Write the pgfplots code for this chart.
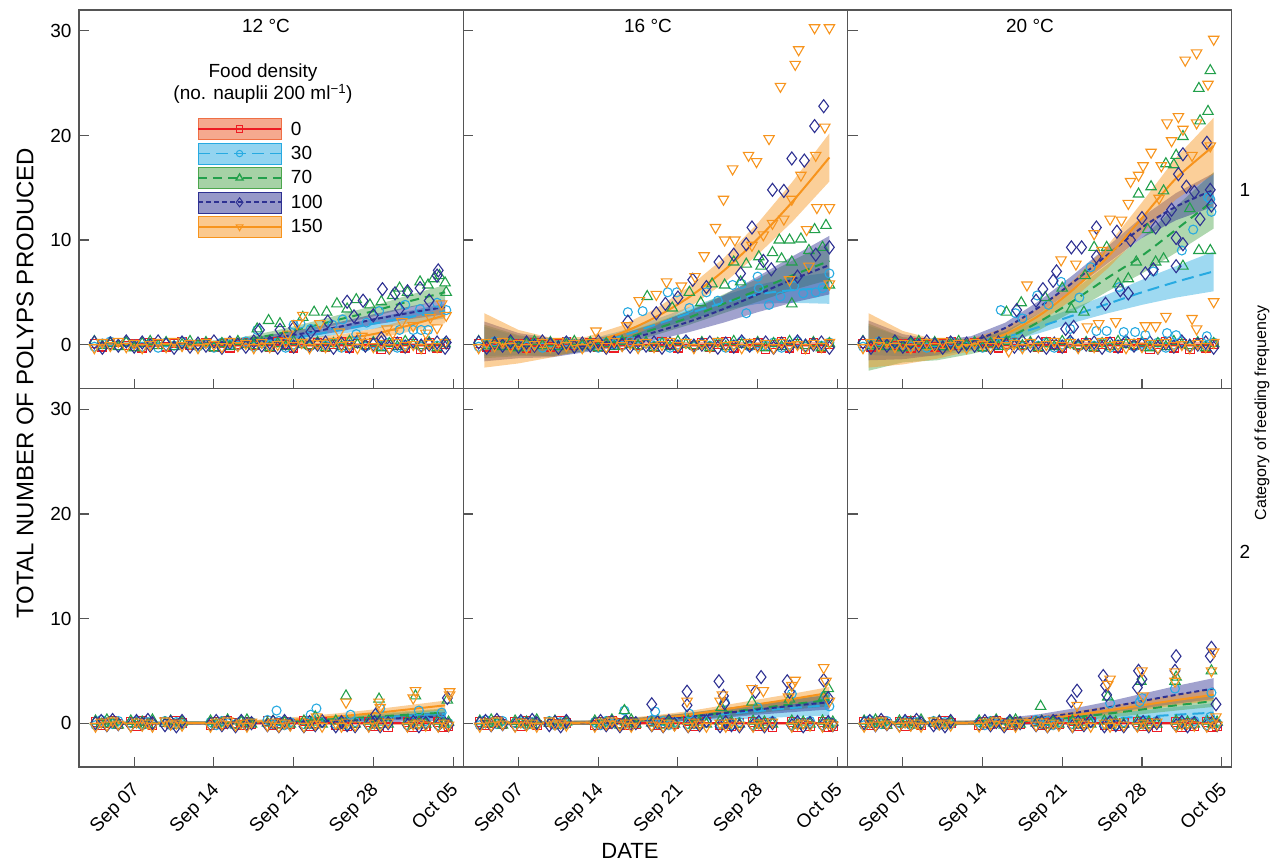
\documentclass[border=0pt]{standalone}
\usepackage{fontspec}
\setmainfont{Liberation Sans}
\usepackage{pgfplots}
\usepackage{pgfplotstable}
\pgfplotsset{compat=1.18}

\definecolor{cR}{HTML}{ED1C24}
\definecolor{cB}{HTML}{27AAE1}
\definecolor{cG}{HTML}{22A04B}
\definecolor{cP}{HTML}{2E3192}
\definecolor{cO}{HTML}{F7941D}
\definecolor{bR}{HTML}{EF6F45}
\definecolor{bG}{HTML}{4DA64D}
\definecolor{frm}{HTML}{555555}

\newcommand{\fs}[1]{\fontsize{#1}{#1}\selectfont}

\pgfplotsset{
  panel/.style={width=384.3pt, height=378.5pt, scale only axis, anchor=north west,
    xmin=2.15, xmax=35.9, ymin=-4.2, ymax=32, clip=false,
    xtick={7,14,21,28,35}, ytick={0,10,20,30},
    tick align=inside, xtick pos=bottom, ytick pos=left, major tick length=10pt,
    axis line style={frm, line width=1.1pt},
    every tick/.style={frm, line width=1.1pt},
    tick label style={font=\fs{19}},
    /pgf/number format/assume math mode=true,
    yticklabel style={xshift=-4pt}},
  noxl/.style={xticklabels={}},
  noyl/.style={yticklabels={}},
  datexl/.style={xticklabels={Sep 07,Sep 14,Sep 21,Sep 28,Oct 05},
    xticklabel style={rotate=45, anchor=north east, xshift=-9pt, yshift=-4pt}},
  sR/.style={only marks, forget plot, color=cR, mark=square, mark size=4.3pt, mark options={line width=1.1pt}},
  sB/.style={only marks, forget plot, color=cB, mark=o, mark size=4.5pt, mark options={line width=1.1pt}},
  sG/.style={only marks, forget plot, color=cG, mark=triangle, mark size=6pt, mark options={line width=1.1pt}},
  sP/.style={only marks, forget plot, color=cP, mark=diamond, mark size=6.5pt, mark options={line width=1.1pt}},
  sO/.style={only marks, forget plot, color=cO, mark=triangle, mark size=6pt, mark options={line width=1.1pt, rotate=180}},
  lR/.style={forget plot, smooth, no marks, cR, line width=2pt},
  lB/.style={forget plot, smooth, no marks, cB, line width=2pt, dash pattern=on 12pt off 6pt},
  lG/.style={forget plot, smooth, no marks, cG, line width=2pt, dash pattern=on 9pt off 6pt},
  lP/.style={forget plot, smooth, no marks, cP, line width=2pt, dash pattern=on 5pt off 3pt},
  lO/.style={forget plot, smooth, no marks, cO, line width=2pt},
  band/.style={forget plot, draw=none, no marks, fill opacity=0.45},
}

% near-zero replicates, top row (daily sampling)
\pgfplotstableread{
d r b g p o
3.5 0.1 -0.2 0.3 0.2 -0.3
4.2 -0.2 0.1 -0.1 -0.3 0.2
4.9 0.0 0.3 0.1 0.1 -0.1
5.6 0.2 -0.1 -0.2 -0.1 0.3
6.3 -0.1 0.2 0.2 0.3 -0.2
7.0 0.1 0.0 -0.3 -0.2 0.1
7.7 -0.3 -0.2 0.1 0.2 -0.3
8.4 0.2 0.1 0.3 -0.1 0.0
9.1 0.0 -0.3 -0.1 0.3 0.2
9.8 -0.2 0.2 0.2 0.0 -0.2
10.5 0.1 -0.1 -0.2 -0.3 0.3
11.2 0.3 0.3 0.0 0.2 -0.1
11.9 -0.1 0.0 0.3 -0.2 0.1
12.6 0.0 -0.2 -0.1 0.1 -0.3
13.3 0.2 0.1 0.2 -0.1 0.2
14.0 -0.2 -0.3 -0.3 0.3 0.0
14.7 0.1 0.2 0.1 -0.3 -0.2
15.4 -0.3 0.0 -0.2 0.2 0.3
16.1 0.0 -0.1 0.3 0.0 -0.1
16.8 0.2 0.3 0.0 -0.2 0.1
17.5 -0.1 -0.2 -0.1 0.3 -0.3
18.2 0.1 0.1 0.2 -0.1 0.2
18.9 -0.2 -0.1 -0.3 0.2 -0.2
19.6 0.3 0.2 0.1 -0.3 0.0
20.3 0.0 -0.3 -0.2 0.1 0.3
21.0 -0.3 0.0 0.3 -0.2 -0.1
21.7 0.1 0.3 0.0 0.3 0.2
22.4 -0.1 -0.2 -0.1 -0.1 -0.3
23.1 0.2 0.1 0.2 0.0 0.1
23.8 -0.2 -0.1 -0.3 0.2 -0.2
24.5 0.0 0.2 0.1 -0.3 0.3
25.2 0.3 -0.3 -0.2 0.1 -0.1
25.9 -0.3 0.0 0.3 -0.2 0.0
26.6 0.1 0.3 0.0 0.3 -0.3
27.3 -0.1 -0.2 -0.1 -0.1 0.2
28.0 0.2 0.1 0.2 0.0 -0.2
28.7 -0.4 -0.1 -0.3 0.2 0.1
29.4 0.0 0.2 0.1 -0.3 -0.3
30.1 0.3 -0.3 -0.2 0.1 0.2
30.8 -0.3 0.0 0.3 -0.2 -0.1
31.5 0.1 0.3 0.0 0.3 0.0
32.2 -0.4 -0.2 -0.1 -0.1 -0.3
32.9 0.2 0.1 0.2 0.0 0.1
33.6 -0.3 -0.1 -0.3 0.2 -0.2
34.3 0.0 0.2 0.1 -0.3 0.2
}\baseT

% near-zero replicates, bottom row (clustered sampling)
\pgfplotstableread{
d r b g p o
3.6 0.1 -0.2 0.2 0.0 -0.3
4.1 -0.2 0.3 -0.1 0.2 0.1
4.6 0.0 0.1 0.3 -0.2 -0.2
5.1 0.2 -0.1 0.0 0.3 0.2
5.6 -0.1 0.2 -0.2 -0.1 -0.1
6.7 0.1 0.0 0.2 -0.2 -0.3
7.2 -0.3 0.2 -0.1 0.2 0.1
7.7 0.2 -0.2 0.1 -0.1 -0.2
8.2 0.0 0.1 -0.2 0.3 0.0
8.6 -0.2 -0.1 0.3 0.0 -0.3
9.7 0.1 0.2 0.0 -0.2 0.2
10.2 -0.1 -0.2 0.2 0.1 -0.1
10.7 0.2 0.1 -0.2 -0.3 0.0
11.2 0.0 -0.1 0.1 0.2 -0.2
13.7 -0.2 0.1 0.2 -0.1 -0.3
14.2 0.1 -0.2 -0.1 0.2 0.1
14.7 -0.1 0.2 0.0 -0.2 -0.1
15.2 0.2 0.0 0.3 0.1 0.2
15.9 0.0 -0.1 -0.2 -0.3 -0.2
16.4 -0.2 0.2 0.1 0.2 0.0
16.9 0.1 -0.2 0.3 -0.1 -0.3
17.3 -0.1 0.1 -0.1 0.0 0.1
18.7 0.2 0.3 0.0 -0.2 -0.2
19.2 -0.2 -0.1 0.2 0.1 0.1
19.7 0.0 0.2 -0.2 -0.3 -0.3
20.2 0.1 -0.2 0.1 0.2 0.0
20.7 -0.1 0.1 -0.1 -0.1 -0.2
21.9 0.2 -0.1 0.2 -0.3 -0.3
22.4 -0.3 0.2 -0.2 0.1 0.1
22.9 0.0 -0.2 0.1 -0.2 -0.1
23.5 0.1 0.1 -0.1 0.2 -0.3
24.7 -0.2 -0.1 0.2 -0.3 0.0
25.2 0.1 0.2 -0.2 0.1 -0.3
25.7 -0.3 -0.2 0.1 -0.2 0.1
26.4 0.0 0.1 -0.1 -0.3 -0.2
27.6 0.1 -0.2 0.2 -0.2 -0.3
28.1 -0.3 0.1 -0.2 0.1 0.0
28.6 0.0 -0.1 0.1 -0.3 -0.2
29.3 -0.4 0.2 -0.1 0.0 0.1
31.0 0.1 -0.2 0.2 -0.2 -0.3
31.5 -0.4 0.1 -0.2 0.1 -0.1
32.0 0.0 -0.1 0.1 -0.3 0.0
32.6 -0.3 0.2 -0.1 0.0 -0.2
33.7 0.1 -0.2 0.2 -0.2 -0.3
34.2 -0.4 0.1 -0.1 0.1 0.0
34.6 -0.3 0.0 0.1 -0.2 -0.2
}\baseB

% fitted means per food density (r=0, b=30, g=70, p=100, o=150)
\pgfplotstableread{
d r b g p o
4 0 0 0 0 0
7 0 0 0 0 0
10 0 0 0.02 0.02 0
13 0 0.05 0.1 0.08 0.03
16 0 0.15 0.35 0.25 0.08
19 0 0.4 0.9 0.6 0.15
22 0 0.8 1.6 1.1 0.3
25 0 1.4 2.4 1.7 0.55
28 0 2.0 3.2 2.4 1.0
31 0 2.6 4.1 3.0 1.8
34.3 0 3.2 5.0 3.6 2.8
}\meanTa
\pgfplotstableread{
d r b g p o
4 0 0.3 0.3 0.3 0.4
7 0 -0.1 -0.1 -0.1 -0.2
10 0 -0.3 -0.3 -0.3 -0.3
13 0 -0.05 -0.1 -0.1 0.15
16 0 0.8 0.5 0.4 1.1
19 0 1.9 1.5 1.2 2.6
22 0 3.0 2.6 2.2 4.55
25 0 4.0 3.9 3.4 7.05
28 0 4.8 5.2 4.8 10.1
31 0 5.2 6.6 6.2 13.6
34.3 0 5.4 8.0 7.6 17.9
}\meanTb
\pgfplotstableread{
d r b g p o
4 0 0.4 0.3 0.4 0.4
7 0 -0.2 -0.3 -0.2 -0.3
10 0 -0.3 -0.5 -0.3 -0.45
13 0 0 -0.2 0.3 0
16 0 0.7 0.6 1.6 1.0
19 0 1.7 2.2 3.6 2.8
22 0 2.8 4.2 6.0 5.3
25 0 3.9 6.4 8.6 8.4
28 0 5.0 8.5 11.2 12.1
31 0 6.0 11.0 13.2 15.9
34.3 0 7.0 13.8 14.8 19.0
}\meanTc
\pgfplotstableread{
d r b g p o
4 0 0 0 0 0
7 0 0 0 0 0
10 0 0 0 0 0
13 0 0.02 0.02 0.01 0.02
16 0 0.05 0.05 0.03 0.08
19 0 0.1 0.12 0.07 0.2
22 0 0.2 0.25 0.15 0.4
25 0 0.35 0.4 0.25 0.65
28 0 0.5 0.6 0.35 0.95
31 0 0.7 0.8 0.5 1.3
34.3 0 0.9 1.0 0.65 1.7
}\meanBa
\pgfplotstableread{
d r b g p o
4 0 0 0 0 0
7 0 0 0 0 0
10 0 0 0 0 0
13 0 0.03 0.04 0.04 0.05
16 0 0.12 0.15 0.15 0.2
19 0 0.3 0.35 0.35 0.45
22 0 0.55 0.65 0.6 0.8
25 0 0.85 1.0 0.95 1.3
28 0 1.15 1.4 1.3 1.8
31 0 1.45 1.8 1.65 2.3
34.3 0 1.7 2.2 2.0 2.9
}\meanBb
\pgfplotstableread{
d r b g p o
4 0 0 0 0 0
7 0 0 0 0 0
10 0 0 0 0 0
13 0 0.02 0.03 0.05 0.04
16 0 0.07 0.1 0.2 0.15
19 0 0.15 0.28 0.5 0.38
22 0 0.3 0.55 0.95 0.75
25 0 0.45 0.9 1.5 1.2
28 0 0.6 1.3 2.1 1.7
31 0 0.8 1.7 2.7 2.2
34.3 0 1.0 2.1 3.3 2.7
}\meanBc

% confidence bands as closed outlines: upper edge forward, lower edge back
\pgfplotstableread{
d b g p o
4 0.2 0.2 0.2 0.2
7 0.2 0.2 0.2 0.2
10 0.2 0.22 0.22 0.2
13 0.25 0.3 0.28 0.23
16 0.4 0.6 0.5 0.33
19 0.7 1.25 0.95 0.45
22 1.15 2.0 1.5 0.65
25 1.8 2.85 2.15 0.95
28 2.5 3.7 2.9 1.5
31 3.2 4.7 3.6 2.4
34.3 3.9 5.7 4.3 3.55
34.3 2.5 4.3 2.9 2.05
31 2.0 3.5 2.4 1.2
28 1.5 2.7 1.9 0.5
25 1.0 1.95 1.25 0.15
22 0.45 1.2 0.7 -0.05
19 0.1 0.55 0.25 -0.15
16 -0.1 0.1 0 -0.17
13 -0.15 -0.1 -0.12 -0.17
10 -0.2 -0.18 -0.18 -0.2
7 -0.2 -0.2 -0.2 -0.2
4 -0.2 -0.2 -0.2 -0.2
}\bandTa
\pgfplotstableread{
d b g p o
4 1.7 1.9 2.2 3.0
7 0.8 0.9 1.1 1.4
10 0.5 0.5 0.6 0.6
13 0.45 0.4 0.5 0.75
16 1.3 1.0 1.0 1.8
19 2.4 2.1 2.0 3.4
22 3.6 3.3 3.2 5.55
25 4.7 4.8 4.7 8.25
28 5.7 6.3 6.5 11.6
31 6.4 8.0 8.4 15.5
34.3 6.9 9.8 10.4 20.2
34.3 3.9 6.2 4.8 15.6
31 4.0 5.2 4.0 11.7
28 3.9 4.1 3.1 8.6
25 3.3 3.0 2.1 5.85
22 2.4 1.9 1.2 3.55
19 1.4 0.9 0.4 1.8
16 0.3 0 -0.2 0.4
13 -0.55 -0.6 -0.7 -0.45
10 -1.1 -1.1 -1.2 -1.2
7 -1.0 -1.1 -1.3 -1.8
4 -1.1 -1.3 -1.6 -2.2
}\bandTb
\pgfplotstableread{
d b g p o
4 1.8 2.0 2.3 3.0
7 0.7 0.7 1.0 1.3
10 0.5 0.5 0.4 0.45
13 0.5 0.5 0.8 0.6
16 1.2 1.3 2.1 1.6
19 2.3 3.0 4.2 3.5
22 3.5 5.2 6.7 6.2
25 4.8 7.7 9.4 9.5
28 6.2 10.2 12.2 13.6
31 7.5 13.2 14.5 17.9
34.3 8.9 16.5 16.4 21.7
34.3 5.1 11.1 13.2 16.3
31 4.5 8.8 11.9 13.9
28 3.8 6.8 10.2 10.6
25 3.0 5.1 7.8 7.3
22 2.1 3.2 5.3 4.4
19 1.1 1.4 3.0 2.1
16 0.2 -0.1 1.1 0.4
13 -0.5 -0.9 -0.2 -0.6
10 -1.1 -1.5 -1.0 -1.35
7 -1.1 -1.7 -1.4 -1.9
4 -1.0 -2.5 -1.5 -2.2
}\bandTc
\pgfplotstableread{
d b g p o
4 0.15 0.15 0.15 0.15
7 0.15 0.15 0.15 0.15
10 0.15 0.15 0.15 0.15
13 0.17 0.17 0.16 0.17
16 0.2 0.2 0.18 0.23
19 0.25 0.27 0.22 0.4
22 0.4 0.45 0.35 0.65
25 0.6 0.65 0.5 0.95
28 0.8 0.9 0.65 1.3
31 1.05 1.15 0.85 1.7
34.3 1.3 1.4 1.05 2.15
34.3 0.5 0.6 0.25 1.25
31 0.35 0.45 0.15 0.9
28 0.2 0.3 0.05 0.6
25 0.1 0.15 0 0.35
22 0 0.05 -0.05 0.15
19 -0.05 -0.03 -0.08 0
16 -0.1 -0.1 -0.12 -0.07
13 -0.13 -0.13 -0.14 -0.13
10 -0.15 -0.15 -0.15 -0.15
7 -0.15 -0.15 -0.15 -0.15
4 -0.15 -0.15 -0.15 -0.15
}\bandBa
\pgfplotstableread{
d b g p o
4 0.2 0.2 0.2 0.2
7 0.2 0.2 0.2 0.2
10 0.2 0.2 0.2 0.2
13 0.23 0.24 0.24 0.25
16 0.37 0.4 0.4 0.45
19 0.6 0.65 0.65 0.75
22 0.95 1.0 0.95 1.15
25 1.4 1.4 1.4 1.7
28 1.85 1.85 1.8 2.25
31 2.3 2.3 2.25 2.8
34.3 2.7 2.8 2.7 3.45
34.3 0.7 1.6 1.3 2.35
31 0.6 1.3 1.05 1.8
28 0.45 0.95 0.8 1.35
25 0.3 0.6 0.5 0.9
22 0.15 0.3 0.25 0.45
19 0 0.05 0.05 0.15
16 -0.13 -0.1 -0.1 -0.05
13 -0.17 -0.16 -0.16 -0.15
10 -0.2 -0.2 -0.2 -0.2
7 -0.2 -0.2 -0.2 -0.2
4 -0.2 -0.2 -0.2 -0.2
}\bandBb
\pgfplotstableread{
d b g p o
4 0.2 0.2 0.2 0.2
7 0.2 0.2 0.2 0.2
10 0.2 0.2 0.2 0.2
13 0.22 0.23 0.25 0.24
16 0.32 0.35 0.5 0.4
19 0.45 0.58 0.85 0.68
22 0.7 0.9 1.4 1.1
25 0.95 1.3 2.05 1.6
28 1.2 1.75 2.8 2.15
31 1.55 2.2 3.55 2.7
34.3 1.9 2.65 4.3 3.25
34.3 0.1 1.55 2.3 2.15
31 0.05 1.2 1.85 1.7
28 0 0.85 1.4 1.25
25 -0.05 0.5 0.95 0.8
22 -0.1 0.2 0.5 0.4
19 -0.15 -0.02 0.15 0.08
16 -0.18 -0.15 -0.1 -0.1
13 -0.18 -0.17 -0.15 -0.16
10 -0.2 -0.2 -0.2 -0.2
7 -0.2 -0.2 -0.2 -0.2
4 -0.2 -0.2 -0.2 -0.2
}\bandBc

% zero replicates of every density
\newcommand{\baseplots}[1]{%
  \addplot[sR] table[x=d,y=r]{#1};
  \addplot[sB] table[x=d,y=b]{#1};
  \addplot[sG] table[x=d,y=g]{#1};
  \addplot[sP] table[x=d,y=p]{#1};
  \addplot[sO] table[x=d,y=o]{#1};
}
% bands (#2), then fitted lines (#1); #3 = half width of the flat 0-density band
\newcommand{\fits}[3]{%
  \addplot[band, fill=bR, fill opacity=0.55] coordinates {(4,-#3) (34.3,-#3) (34.3,#3) (4,#3)};
  \addplot[band, fill=cB] table[x=d,y=b]{#2};
  \addplot[band, fill=bG] table[x=d,y=g]{#2};
  \addplot[band, fill=cP] table[x=d,y=p]{#2};
  \addplot[band, fill=cO] table[x=d,y=o]{#2};
  \addplot[lR] table[x=d,y=r]{#1};
  \addplot[lB] table[x=d,y=b]{#1};
  \addplot[lG] table[x=d,y=g]{#1};
  \addplot[lP] table[x=d,y=p]{#1};
  \addplot[lO] table[x=d,y=o]{#1};
}

\begin{document}
\begin{tikzpicture}
\useasboundingbox (0pt,0pt) rectangle (1279pt,-863pt);

% ---- top row: feeding frequency 1 ----
\begin{axis}[panel, noxl, at={(79pt,-10pt)}]
\baseplots{\baseT}
\addplot[sB] coordinates {(17.8,1.4) (21.0,1.9) (21.6,2.0) (22.5,1.5) (24.4,1.9) (25.3,2.4) (26.5,1.0) (27.4,2.1) (28.5,3.2) (30.3,1.4) (30.8,3.8) (31.5,1.4) (32.1,3.4) (32.2,1.4) (32.8,1.4) (33.6,4.0) (34.4,3.3)};
\addplot[sG] coordinates {(17.8,1.5) (18.8,2.3) (19.8,2.0) (21.8,2.6) (22.8,3.1) (23.9,3.1) (24.8,3.9) (25.7,3.4) (26.5,4.3) (27.7,3.8) (28.7,4.1) (29.7,4.7) (30.3,5.4) (31.0,5.0) (32.1,6.0) (32.8,5.7) (33.3,6.3) (33.8,6.6) (34.3,5.9) (34.4,5.0)};
\addplot[sP] coordinates {(18.0,1.4) (19.8,1.4) (21.0,1.6) (22.5,1.2) (24.0,2.2) (25.7,4.1) (26.3,2.7) (27.1,4.2) (28.0,2.8) (28.7,0.6) (28.8,5.3) (29.9,4.9) (30.3,3.4) (31.0,5.1) (32.1,5.4) (32.9,4.2) (33.6,6.6) (33.7,7.1) (34.4,0.2)};
\addplot[sO] coordinates {(20.5,1.0) (21.3,2.0) (21.8,2.8) (23.3,2.0) (25.0,1.2) (27.0,0.8) (29.2,1.5) (29.7,1.1) (30.5,2.2) (31.5,1.8) (32.6,1.1) (33.0,2.6) (33.6,1.6) (34.0,3.9) (34.4,2.8)};
\fits{\meanTa}{\bandTa}{0.2}
\end{axis}

\begin{axis}[panel, noxl, noyl, at={(463.3pt,-10pt)}]
\baseplots{\baseT}
\addplot[sB] coordinates {(34.3,6.8) (33.7,5.4) (33.1,5.0) (32.0,4.9) (28.0,6.5) (25.8,5.7) (20.1,5.0) (20.9,5.0) (16.6,3.1) (17.9,3.2) (27.0,3.0) (28.1,5.4) (23.5,5.0) (26.6,5.8) (22.0,3.5) (24.5,4.2) (30.0,4.6) (31.2,5.6) (29.0,3.8)};
\addplot[sG] coordinates {(34.0,11.4) (33.0,11.0) (31.8,10.1) (30.8,10.0) (29.9,10.0) (29.3,8.8) (30.1,8.2) (28.1,8.4) (28.3,7.5) (27.0,7.7) (32.5,9.0) (33.7,9.3) (31.0,7.9) (31.0,3.9) (34.3,5.7) (25.1,5.7) (24.0,5.8) (25.9,7.9) (18.3,4.6) (22.0,5.0) (20.5,3.5) (23.0,4.0) (26.5,6.0)};
\addplot[sP] coordinates {(33.8,22.8) (33.0,20.9) (31.0,17.8) (32.1,17.6) (29.3,14.8) (30.3,14.7) (27.5,11.2) (34.3,9.3) (33.1,8.6) (27.0,9.6) (25.9,8.6) (24.6,7.9) (22.3,6.2) (29.2,7.2) (19.9,3.9) (16.6,2.2) (19.1,3.0) (21.0,4.5) (23.5,5.5) (28.5,8.0) (31.5,6.5) (26.5,6.8)};
\addplot[sO] coordinates {(33.0,30.3) (34.3,30.3) (31.6,28.2) (31.3,26.8) (30.0,24.7) (33.9,20.8) (29.0,19.7) (27.2,18.1) (27.9,17.5) (25.8,16.8) (33.1,18.1) (25.0,13.9) (33.2,13.1) (34.3,13.1) (24.3,11.2) (25.1,10.0) (26.0,10.0) (23.3,8.5) (31.0,13.9) (30.3,12.0) (29.3,11.6) (32.3,11.0) (31.8,16.2) (20.0,6.0) (21.3,5.6) (19.1,4.8) (17.6,4.2) (13.8,1.3) (34.3,5.8) (22.5,6.5) (27.5,9.5) (28.5,10.5) (16.5,1.8) (32.5,7.5) (30.8,6.2)};
\fits{\meanTb}{\bandTb}{0.25}
\end{axis}

\begin{axis}[panel, noxl, noyl, at={(847.6pt,-10pt)}]
\baseplots{\baseT}
\addplot[sB] coordinates {(34.0,13.9) (34.1,12.7) (33.8,14.1) (15.6,3.3) (16.9,3.0) (18.8,4.7) (20.9,6.0) (23.5,7.4) (24.0,1.3) (24.9,1.3) (26.4,1.2) (27.4,1.2) (28.3,0.9) (30.2,1.1) (31.0,0.9) (33.7,0.8) (21.7,1.5) (17.5,2.5) (19.8,3.8) (22.5,4.5) (26.0,5.5) (29.0,7.0) (31.5,9.0) (32.5,11.0)};
\addplot[sG] coordinates {(34.0,26.2) (33.0,24.5) (33.8,22.3) (33.1,21.4) (31.6,19.9) (31.0,18.1) (30.1,17.3) (30.8,17.2) (28.8,15.1) (29.9,14.7) (27.7,14.4) (33.0,9.0) (34.0,9.0) (31.6,7.5) (29.9,8.2) (29.2,7.9) (27.5,7.9) (26.8,6.3) (25.9,5.8) (23.8,9.3) (24.9,9.3) (23.0,6.6) (17.4,4.0) (16.1,3.1) (22.9,3.1) (21.0,5.4) (21.8,3.4) (28.5,11.0) (32.2,13.0) (19.5,4.5)};
\addplot[sP] coordinates {(33.7,19.3) (31.6,18.2) (31.2,16.3) (31.9,15.1) (34.0,14.8) (34.1,13.3) (32.6,14.6) (30.6,12.9) (28.0,12.1) (30.1,12.0) (29.2,11.2) (25.8,10.8) (24.0,11.2) (31.0,10.2) (31.6,9.6) (31.0,7.5) (28.3,6.8) (29.0,7.2) (21.8,9.3) (22.7,9.3) (20.5,7.0) (20.2,6.1) (19.3,5.3) (18.7,4.2) (24.0,8.4) (24.8,3.9) (26.8,4.9) (26.1,5.2) (33.1,12.0) (22.0,1.7) (21.3,1.5) (17.0,3.3) (27.0,10.0)};
\addplot[sO] coordinates {(34.3,29.2) (32.8,27.9) (31.8,27.2) (33.8,24.9) (31.2,21.8) (30.2,21.2) (31.6,20.6) (30.6,19.5) (32.8,21.2) (34.0,19.0) (28.8,18.4) (28.1,17.1) (29.7,17.1) (27.7,16.2) (27.0,15.6) (32.4,18.1) (25.2,12.0) (26.2,11.9) (23.8,10.6) (20.9,8.1) (22.2,7.7) (17.9,5.7) (34.3,4.1) (30.1,2.7) (28.3,1.8) (29.2,1.8) (32.4,2.5) (32.8,1.5) (25.7,2.2) (24.2,2.0) (23.2,1.7) (16.3,-0.6) (29.5,14.0) (26.8,13.5) (24.5,9.0)};
\fits{\meanTc}{\bandTc}{0.25}
\end{axis}

% ---- bottom row: feeding frequency 2 ----
\begin{axis}[panel, datexl, at={(79pt,-388.5pt)}]
\baseplots{\baseB}
\addplot[sB] coordinates {(19.5,1.2) (23.0,1.4) (32.0,1.2) (34.0,1.0) (22.5,0.8) (26.0,0.8) (28.6,1.4)};
\addplot[sG] coordinates {(25.6,2.6) (28.5,2.3) (31.7,2.6) (34.5,2.2) (22.9,0.6)};
\addplot[sP] coordinates {(34.5,2.4) (28.2,0.8)};
\addplot[sO] coordinates {(25.6,2.0) (28.5,2.0) (28.6,1.5) (31.7,3.1) (34.7,3.0) (34.7,2.7) (31.5,2.4) (23.0,0.6)};
\fits{\meanBa}{\bandBa}{0.15}
\end{axis}

\begin{axis}[panel, datexl, noyl, at={(463.3pt,-388.5pt)}]
\baseplots{\baseB}
\addplot[sB] coordinates {(16.3,1.2) (19.0,1.1) (25.1,2.0) (31.0,2.8) (34.3,1.6) (28.0,1.5) (22.0,0.9) (33.9,2.6)};
\addplot[sG] coordinates {(33.8,2.5) (27.5,2.0) (16.3,1.2) (24.8,1.5) (30.8,2.3) (34.2,3.3)};
\addplot[sP] coordinates {(18.7,1.8) (21.8,3.0) (24.6,4.0) (28.3,4.4) (30.6,4.0) (33.8,4.1) (27.8,3.0) (30.8,3.0) (21.8,1.7) (25.1,1.9) (34.2,2.4) (25.0,2.6)};
\addplot[sO] coordinates {(33.8,5.3) (31.3,4.1) (24.9,2.7) (24.7,2.1) (21.8,2.1) (27.5,3.3) (30.7,2.5) (34.3,2.1) (28.5,3.1) (31.0,3.6) (34.0,4.0)};
\fits{\meanBb}{\bandBb}{0.15}
\end{axis}

\begin{axis}[panel, datexl, noyl, at={(847.6pt,-388.5pt)}]
\baseplots{\baseB}
\addplot[sB] coordinates {(28.0,2.4) (30.9,3.3) (34.1,2.9) (25.2,1.9) (34.0,0.6) (27.8,2.0)};
\addplot[sG] coordinates {(19.1,1.6) (30.9,4.0) (34.1,5.0) (27.9,4.0) (25.0,2.5) (31.0,4.4)};
\addplot[sP] coordinates {(34.1,7.2) (34.0,6.4) (31.0,6.4) (27.7,5.0) (27.6,3.4) (30.9,5.0) (24.8,3.6) (24.9,2.7) (22.3,3.1) (21.8,2.1) (34.5,1.8) (28.0,4.2) (24.6,4.5)};
\addplot[sO] coordinates {(34.3,6.8) (28.0,5.0) (30.9,4.9) (25.0,3.7) (34.1,5.0) (28.1,2.6) (22.3,1.7) (30.9,4.0) (34.5,0.6) (25.2,4.2)};
\fits{\meanBc}{\bandBc}{0.15}
\end{axis}

% legend, drawn in an empty axis over the first panel
\begin{axis}[width=384.3pt, height=378.5pt, scale only axis, anchor=north west,
  at={(79pt,-10pt)}, hide axis, xmin=0, xmax=1, ymin=0, ymax=1,
  legend style={at={(axis description cs:0.307,0.714)}, anchor=north west,
    draw=none, fill=none, inner sep=0pt, row sep=3pt, column sep=7pt,
    font=\fs{19}}, legend cell align=left]
\addlegendimage{legend image code/.code={
  \fill[bR, fill opacity=0.6] (0pt,-10.5pt) rectangle (83pt,10.5pt);
  \draw[cR, line width=1.8pt] (0pt,0pt) -- (83pt,0pt);
  \draw[cR, line width=1pt] plot[only marks, mark=square, mark size=3.2pt] coordinates {(41.5pt,0pt)};}}
\addlegendentry{0}
\addlegendimage{legend image code/.code={
  \fill[cB, fill opacity=0.5] (0pt,-10.5pt) rectangle (83pt,10.5pt);
  \draw[cB, line width=1.8pt, dash pattern=on 12pt off 6pt] (0pt,0pt) -- (83pt,0pt);
  \draw[cB, line width=1pt] plot[only marks, mark=o, mark size=3.2pt] coordinates {(41.5pt,0pt)};}}
\addlegendentry{30}
\addlegendimage{legend image code/.code={
  \fill[bG, fill opacity=0.5] (0pt,-10.5pt) rectangle (83pt,10.5pt);
  \draw[cG, line width=1.8pt, dash pattern=on 9pt off 6pt] (0pt,0pt) -- (83pt,0pt);
  \draw[cG, line width=1.4pt] plot[only marks, mark=triangle, mark size=4pt] coordinates {(41.5pt,0pt)};}}
\addlegendentry{70}
\addlegendimage{legend image code/.code={
  \fill[cP, fill opacity=0.5] (0pt,-10.5pt) rectangle (83pt,10.5pt);
  \draw[cP, line width=1.8pt, dash pattern=on 5pt off 3pt] (0pt,0pt) -- (83pt,0pt);
  \draw[cP, line width=1pt] plot[only marks, mark=diamond, mark size=4.5pt] coordinates {(41.5pt,0pt)};}}
\addlegendentry{100}
\addlegendimage{legend image code/.code={
  \fill[cO, fill opacity=0.5] (0pt,-10.5pt) rectangle (83pt,10.5pt);
  \draw[cO, line width=1.8pt] (0pt,0pt) -- (83pt,0pt);
  \draw[cO, line width=1pt] plot[only marks, mark=triangle, mark size=4pt, mark options={rotate=180}] coordinates {(41.5pt,0pt)};}}
\addlegendentry{150}
\end{axis}

% titles and labels
\node[font=\fs{19}] at (266pt,-26pt) {12 °C};
\node[font=\fs{19}] at (648pt,-26pt) {16 °C};
\node[font=\fs{19}] at (1030pt,-26pt) {20 °C};
\node[font=\fontsize{19}{22}\selectfont, align=center] at (263pt,-84pt) {Food density\\(no. nauplii 200 ml\textsuperscript{−1})};
\node[rotate=90, font=\fs{24}] at (25pt,-383pt) {TOTAL NUMBER OF POLYPS PRODUCED};
\node[font=\fs{22}] at (630pt,-851pt) {DATE};
\node[font=\fs{19}] at (1245pt,-190pt) {1};
\node[font=\fs{19}] at (1245pt,-552pt) {2};
\node[rotate=90, font=\fs{16}] at (1262pt,-413pt) {Category of feeding frequency};
\end{tikzpicture}
\end{document}
